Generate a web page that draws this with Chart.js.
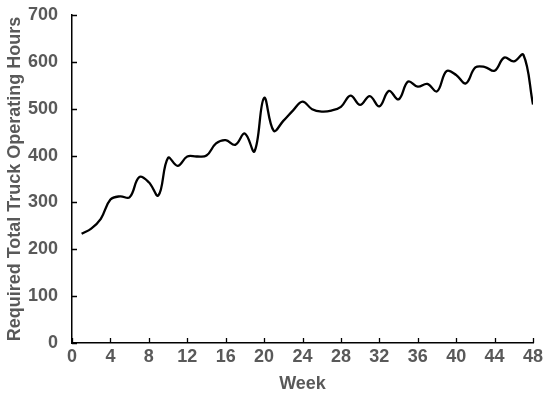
<!DOCTYPE html>
<html><head><meta charset="utf-8">
<script src="https://cdn.jsdelivr.net/npm/chart.js@4.4.0/dist/chart.umd.min.js"></script>
<style>html,body{margin:0;padding:0;background:#fff;}#wrap{width:550px;height:403px;}</style>
</head><body><div id="wrap"><canvas id="c" width="550" height="403"></canvas></div>
<script>
const weeks = [1,2,3,4,5,6,7,8,9,10,11,12,13,14,15,16,17,18,19,20,21,22,23,24,25,26,27,28,29,30,31,32,33,34,35,36,37,38,39,40,41,42,43,44,45,46,47,48];
const hours = [233,244,265,306,313,311,354,343,315,395,378,398,398,400,426,433,423,447,409,523,453,474,496,515,499,494,496,504,528,508,527,505,538,520,558,547,553,537,580,572,554,588,589,581,609,601,615,509];
const xTicks = [0,4,8,12,16,20,24,28,32,36,40,44,48];
const yTicks = [0,100,200,300,400,500,600,700];

const FONT = "'Liberation Sans', Arial, sans-serif";
const GREY = '#595959';

const innerTicks = {
  id: 'innerTicks',
  afterDraw(chart) {
    const ctx = chart.ctx, a = chart.chartArea;
    const xs = chart.scales.x, ys = chart.scales.y;
    ctx.save();
    ctx.strokeStyle = '#000';
    ctx.lineWidth = 1.3;
    ctx.beginPath();
    xTicks.forEach(v => { const p = Math.round(xs.getPixelForValue(v)) + 0.5; ctx.moveTo(p, a.bottom); ctx.lineTo(p, a.bottom - 5); });
    yTicks.forEach(v => { const p = Math.round(ys.getPixelForValue(v)) + 0.5; ctx.moveTo(a.left, p); ctx.lineTo(a.left + 5, p); });
    ctx.stroke();
    ctx.restore();
  }
};

new Chart(document.getElementById('c'), {
  type: 'line',
  data: { datasets: [{ data: weeks.map((w,i)=>({x:w,y:hours[i]})), borderColor:'#000', borderWidth:2.3, pointRadius:0, tension:0.4, fill:false }] },
  options: {
    responsive:false, animation:false,
    layout:{ padding:{ left:0, right:17, top:15, bottom:0 } },
    plugins:{ legend:{display:false}, tooltip:{enabled:false} },
    scales:{
      x:{ type:'linear', min:0, max:48,
        afterBuildTicks(s){ s.ticks = xTicks.map(v=>({value:v})); },
        afterFit(s){ s.height = 60; s.paddingLeft = 0; s.paddingRight = 0; },
        grid:{ display:true, drawOnChartArea:false, drawTicks:false, color:'#000' },
        border:{ color:'#000', width:1.5 },
        ticks:{ color:GREY, padding:3, font:{family:FONT, size:18, weight:'bold'}, maxRotation:0 },
        title:{ display:true, text:'Week', color:GREY, font:{family:FONT, size:18, weight:'bold'}, padding:{top:0, bottom:8} }
      },
      y:{ min:0, max:700,
        afterBuildTicks(s){ s.ticks = yTicks.map(v=>({value:v})); },
        afterFit(s){ s.width = 72; s.paddingTop = 0; s.paddingBottom = 0; },
        grid:{ display:true, drawOnChartArea:false, drawTicks:false, color:'#000' },
        border:{ color:'#000', width:1.5 },
        ticks:{ color:GREY, padding:14, font:{family:FONT, size:18, weight:'bold'} },
        title:{ display:true, text:'Required Total Truck Operating Hours', color:GREY, font:{family:FONT, size:18, weight:'bold'}, padding:{top:4, bottom:0} }
      }
    }
  },
  plugins:[innerTicks]
});
</script></body></html>
